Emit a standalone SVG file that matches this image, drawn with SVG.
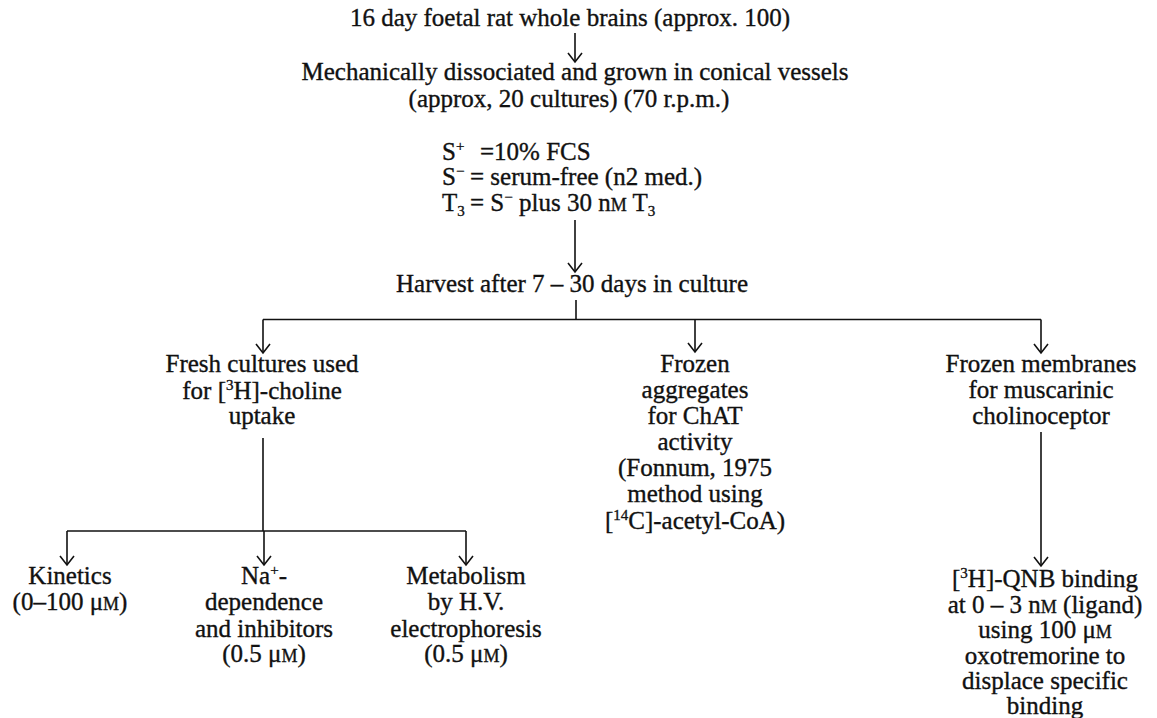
<svg xmlns="http://www.w3.org/2000/svg" width="1157" height="718" viewBox="0 0 1157 718">
<style>
text{font-family:"Liberation Serif","Times New Roman",serif;font-size:25px;fill:#111;stroke:#111;stroke-width:0.35;}
.c{text-anchor:middle;}
.sup{font-size:15px;}
.sc{font-size:18px;}
.ln{stroke:#111;stroke-width:1.6;fill:none;}
.ar{stroke:#111;stroke-width:1.6;fill:none;marker-end:url(#ah);}
</style>
<defs>
<marker id="ah" markerWidth="20" markerHeight="20" refX="10" refY="10" orient="auto" markerUnits="userSpaceOnUse" viewBox="0 0 20 20">
<path d="M1,3 L10,10 L1,17" fill="none" stroke="#111" stroke-width="1.6"/>
</marker>
</defs>
<rect width="1157" height="718" fill="#fff"/>
<g id="connectors">
<line class="ar" x1="575" y1="33" x2="575" y2="62"/>
<line class="ar" x1="575" y1="220" x2="575" y2="272"/>
<line class="ln" x1="576" y1="300" x2="576" y2="319.5"/>
<line class="ln" x1="263" y1="319.5" x2="1041" y2="319.5"/>
<line class="ar" x1="263" y1="319.5" x2="263" y2="353"/>
<line class="ar" x1="695" y1="319.5" x2="695" y2="352"/>
<line class="ar" x1="1041" y1="319.5" x2="1041" y2="353"/>
<line class="ln" x1="263" y1="438" x2="263" y2="531"/>
<line class="ln" x1="67" y1="531" x2="466" y2="531"/>
<line class="ar" x1="67" y1="531" x2="67" y2="565"/>
<line class="ar" x1="264" y1="531" x2="264" y2="565"/>
<line class="ar" x1="466" y1="531" x2="466" y2="565"/>
<line class="ar" x1="1041" y1="432" x2="1041" y2="566"/>
</g>
<g id="n1"><text class="c" x="570" y="26">16 day foetal rat whole brains (approx. 100)</text></g>
<g id="n2">
<text class="c" x="575" y="80">Mechanically dissociated and grown in conical vessels</text>
<text class="c" x="569" y="107">(approx, 20 cultures) (70 r.p.m.)</text>
</g>
<g id="n3">
<text x="442" y="160">S<tspan class="sup" dy="-9">+</tspan><tspan x="480" dy="9">=10% FCS</tspan></text>
<text x="442" y="185">S<tspan class="sup" dy="-9">−</tspan><tspan x="470" dy="9">= serum-free (n2 med.)</tspan></text>
<text x="442" y="211">T<tspan class="sup" dy="5">3</tspan><tspan x="470" dy="-5">= S</tspan><tspan class="sup" dy="-9">−</tspan><tspan dy="9"> plus 30 n</tspan><tspan class="sc">M</tspan><tspan> T</tspan><tspan class="sup" dy="5">3</tspan></text>
</g>
<g id="n4"><text class="c" x="572" y="292">Harvest after 7 – 30 days in culture</text></g>
<g id="n5">
<text class="c" x="262" y="372">Fresh cultures used</text>
<text class="c" x="262" y="399">for [<tspan class="sup" dy="-9">3</tspan><tspan dy="9">H]-choline</tspan></text>
<text class="c" x="262" y="424">uptake</text>
</g>
<g id="n6">
<text class="c" x="695" y="372">Frozen</text>
<text class="c" x="695" y="398">aggregates</text>
<text class="c" x="695" y="424">for ChAT</text>
<text class="c" x="695" y="450">activity</text>
<text class="c" x="695" y="476">(Fonnum, 1975</text>
<text class="c" x="695" y="502">method using</text>
<text class="c" x="695" y="529">[<tspan class="sup" dy="-9">14</tspan><tspan dy="9">C]-acetyl-CoA)</tspan></text>
</g>
<g id="n7">
<text class="c" x="1041" y="372">Frozen membranes</text>
<text class="c" x="1041" y="398">for muscarinic</text>
<text class="c" x="1041" y="424">cholinoceptor</text>
</g>
<g id="n8">
<text class="c" x="70" y="584">Kinetics</text>
<text class="c" x="70" y="610">(0–100 μ<tspan class="sc">M</tspan>)</text>
</g>
<g id="n9">
<text class="c" x="264" y="584">Na<tspan class="sup" dy="-9">+</tspan><tspan dy="9">-</tspan></text>
<text class="c" x="264" y="610">dependence</text>
<text class="c" x="264" y="637">and inhibitors</text>
<text class="c" x="264" y="662">(0.5 μ<tspan class="sc">M</tspan>)</text>
</g>
<g id="n10">
<text class="c" x="466" y="584">Metabolism</text>
<text class="c" x="466" y="610">by H.V.</text>
<text class="c" x="466" y="637">electrophoresis</text>
<text class="c" x="466" y="662">(0.5 μ<tspan class="sc">M</tspan>)</text>
</g>
<g id="n11">
<text class="c" x="1045" y="587">[<tspan class="sup" dy="-9">3</tspan><tspan dy="9">H]-QNB binding</tspan></text>
<text class="c" x="1045" y="613">at 0 – 3 n<tspan class="sc">M</tspan> (ligand)</text>
<text class="c" x="1045" y="638">using 100 μ<tspan class="sc">M</tspan></text>
<text class="c" x="1045" y="664">oxotremorine to</text>
<text class="c" x="1045" y="689">displace specific</text>
<text class="c" x="1045" y="714">binding</text>
</g>
</svg>
